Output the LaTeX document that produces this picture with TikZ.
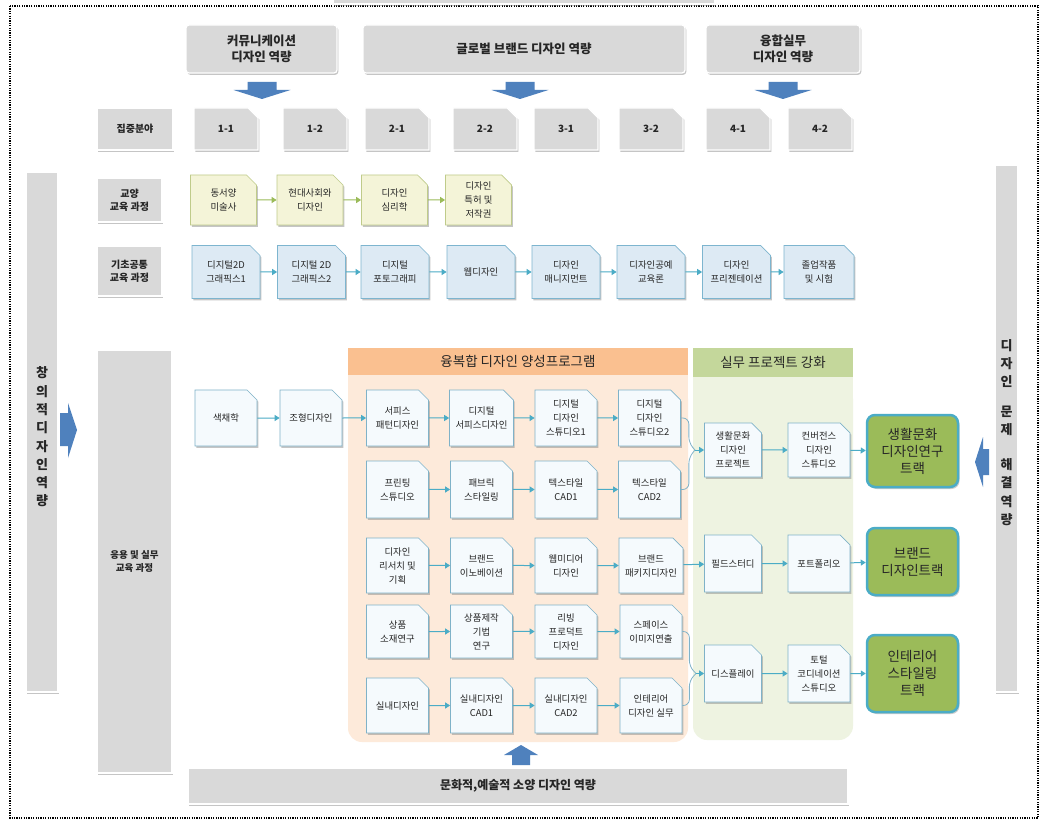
\documentclass[tikz,border=0pt]{standalone}
\usepackage{fontspec}
\setmainfont{Noto Sans CJK KR}
\usetikzlibrary{shapes.misc,shadows,arrows.meta,calc}
\definecolor{cgray}{HTML}{D9D9D9}
\definecolor{ctxt}{HTML}{262626}
\definecolor{cybg}{HTML}{F4F4D8}
\definecolor{cybd}{HTML}{BFCB8A}
\definecolor{cbbg}{HTML}{DDEAF4}
\definecolor{cbbd}{HTML}{7DB5CF}
\definecolor{cmfill}{HTML}{F5FAFD}
\definecolor{cmline}{HTML}{7FB2C8}
\definecolor{cohead}{HTML}{FAC090}
\definecolor{cobg}{HTML}{FDEADA}
\definecolor{cghead}{HTML}{C4D79B}
\definecolor{cgbg}{HTML}{EEF3E1}
\definecolor{ctrk}{HTML}{9BBB59}
\definecolor{ctrkline}{HTML}{4BACC6}
\definecolor{cblue}{HTML}{4F81BD}
\definecolor{cteal}{HTML}{4BACC6}
\definecolor{cgarr}{HTML}{9BBB59}
\tikzset{
  shd/.style={drop shadow={shadow xshift=1.3pt,shadow yshift=-1.8pt,opacity=0.45,fill=black!50}},
  graybox/.style={fill=cgray, draw=white, line width=1.3pt, shd, align=center, inner sep=1pt, text=ctxt, font=\bfseries\fontsize{10}{13}\selectfont},
  topbox/.style={graybox, rounded corners=3pt, font=\bfseries\fontsize{12.5}{16}\selectfont, minimum height=48pt},
  foldshape/.style={chamfered rectangle, chamfered rectangle corners=north east, chamfered rectangle sep=5pt},
  numbox/.style={graybox, foldshape, minimum width=64pt, minimum height=42pt},
  ybox/.style={foldshape, fill=cybg, draw=cybd, line width=0.7pt, shd, minimum width=66pt, minimum height=50pt, align=center, inner sep=1pt, text=ctxt, font=\fontsize{9.4}{14}\selectfont},
  bbox/.style={ybox, fill=cbbg, draw=cbbd, minimum width=68pt, minimum height=53pt},
  mbox/.style={ybox, fill=cmfill, draw=cmline, minimum width=62pt},
  trackbox/.style={rounded corners=8pt, fill=ctrk, draw=ctrkline, line width=2.5pt, drop shadow={shadow xshift=1.5pt,shadow yshift=-2pt,opacity=0.4,fill=black!50}, minimum width=91pt, align=center, text=ctxt, font=\fontsize{13.5}{17}\selectfont},
  yarr/.style={draw=cgarr, line width=1pt, -{Triangle[width=6pt,length=5pt]}},
  tarr/.style={draw=cteal, line width=1pt, -{Triangle[width=6pt,length=5pt]}},
  tcurve/.style={draw=cmline, line width=0.8pt, rounded corners=6pt},
  hdr/.style={inner sep=0pt, text=ctxt, font=\fontsize{13.5}{16}\selectfont},
  sidetxt/.style={align=center, inner sep=0pt, text=ctxt, font=\bfseries\fontsize{13}{18.3}\selectfont},
  blockarr/.style={fill=cblue}
}
\begin{document}
\begin{tikzpicture}[x=1pt,y=-1pt]
\fill[white] (0,0) rectangle (1045,821);
\useasboundingbox (0,0) rectangle (1045,821);
% outer dotted frame
\draw[line width=1.3pt, dash pattern=on 1.2pt off 1.2pt] (10,6) rectangle (1038,818);
% partial box at top
\path[fill=cgray, draw=white, line width=1.3pt, shd] (333,-6) rectangle (715,4);

% top competence boxes
\node[topbox, minimum width=151pt] (t1) at (261.5,49) {커뮤니케이션\\디자인 역량};
\node[topbox, minimum width=322pt] (t2) at (524,49) {글로벌 브랜드 디자인 역량};
\node[topbox, minimum width=154pt] (t3) at (783,49) {융합실무\\디자인 역량};
\foreach \cx in {262,520,783}{
  \fill[blockarr] (\cx-14.5,82) -- (\cx+14.5,82) -- (\cx+14.5,90) -- (\cx+28.5,90) -- (\cx,99) -- (\cx-28.5,90) -- (\cx-14.5,90) -- cycle;
}

% row 1
\node[graybox, minimum width=76pt, minimum height=42pt] (f0) at (135,129) {집중분야};
\node[numbox] (f11) at (226,129) {1-1};
\node[numbox] (f12) at (315,129) {1-2};
\node[numbox] (f21) at (397,129) {2-1};
\node[numbox] (f22) at (485,129) {2-2};
\node[numbox] (f31) at (566,129) {3-1};
\node[numbox] (f32) at (651,129) {3-2};
\node[numbox] (f41) at (738,129) {4-1};
\node[numbox] (f42) at (820,129) {4-2};

% side bars
\node[graybox, minimum width=32pt, minimum height=520pt] (lbar) at (42,432) {};
\node[sidetxt] (ltxt) at (42,437) {창\\의\\적\\디\\자\\인\\역\\량};
\fill[blockarr] (60,413) -- (68,413) -- (68,403) -- (77,430) -- (68,458) -- (68,446) -- (60,446) -- cycle;
\node[graybox, minimum width=23pt, minimum height=527pt] (rbar) at (1006.5,428.5) {};
\node[sidetxt] (rtxt) at (1006.5,432.5) {디\\자\\인\\[11.5pt]문\\제\\[16.5pt]해\\결\\역\\량};
\fill[blockarr] (975,462) -- (983,437) -- (983,449) -- (989,449) -- (989,475) -- (983,475) -- (983,487) -- cycle;

% row labels
\node[graybox, minimum width=65pt, minimum height=44pt] (l1) at (129.5,200) {교양\\교육 과정};
\node[graybox, minimum width=65pt, minimum height=50pt] (l2) at (129.5,271) {기초공통\\교육 과정};
\node[graybox, minimum width=75pt, minimum height=423pt, font=\bfseries\fontsize{9.5}{13}\selectfont] (l3) at (134.5,561.5) {응용 및 실무\\교육 과정};

% liberal arts row
\node[ybox] (y1) at (223.5,200) {동서양\\미술사};
\node[ybox] (y2) at (310,200) {현대사회와\\디자인};
\node[ybox] (y3) at (394.5,200) {디자인\\심리학};
\node[ybox] (y4) at (478.5,200) {디자인\\특허 및\\저작권};
\draw[yarr] (y1) -- (y2);
\draw[yarr] (y2) -- (y3);
\draw[yarr] (y3) -- (y4);

% basic common row
\node[bbox] (k1) at (226,272) {디지털2D\\그래픽스1};
\node[bbox] (k2) at (311.5,272) {디지털 2D\\그래픽스2};
\node[bbox] (k3) at (395,272) {디지털\\포토그래피};
\node[bbox] (k4) at (481,272) {웹디자인};
\node[bbox] (k5) at (566,272) {디자인\\매니지먼트};
\node[bbox] (k6) at (651,272) {디자인공예\\교육론};
\node[bbox] (k7) at (736.5,272) {디자인\\프리젠테이션};
\node[bbox, minimum width=70pt] (k8) at (819,272) {졸업작품\\및 시험};
\foreach \i/\j in {k1/k2,k2/k3,k3/k4,k4/k5,k5/k6,k6/k7,k7/k8}{\draw[tarr] (\i) -- (\j);}

% program regions
\fill[cobg] (348,375) rectangle (688,400);
\fill[cobg, rounded corners=14pt] (348,385) rectangle (688,742);
\node[hdr, fill=cohead, minimum width=340pt, minimum height=27pt] (oh) at (518,361.5) {융복합 디자인 양성프로그램};
\fill[cgbg] (693,377) rectangle (853,400);
\fill[cgbg, rounded corners=14pt] (693,385) rectangle (853,740);
\node[hdr, fill=cghead, minimum width=160pt, minimum height=29pt] (gh) at (773,362.5) {실무 프로젝트 강화};

% row A
\node[mbox, minimum height=56pt] (a1) at (226,418) {색채학};
\node[mbox, minimum height=56pt] (a2) at (311,418) {조형디자인};
\node[mbox, minimum height=56pt] (a3) at (397.5,418) {서피스\\패턴디자인};
\node[mbox, minimum height=56pt] (a4) at (481.5,418) {디지털\\서피스디자인};
\node[mbox, minimum height=56pt] (a5) at (566,418) {디지털\\디자인\\스튜디오1};
\node[mbox, minimum height=56pt] (a6) at (649.5,418) {디지털\\디자인\\스튜디오2};
\foreach \i/\j in {a1/a2,a2/a3,a3/a4,a4/a5,a5/a6}{\draw[tarr] (\i) -- (\j);}
% row B
\node[mbox, minimum height=57pt] (b1) at (397.5,489.5) {프린팅\\스튜디오};
\node[mbox, minimum height=57pt] (b2) at (481.5,489.5) {패브릭\\스타일링};
\node[mbox, minimum height=57pt] (b3) at (566,489.5) {텍스타일\\CAD1};
\node[mbox, minimum height=57pt] (b4) at (649.5,489.5) {텍스타일\\CAD2};
\foreach \i/\j in {b1/b2,b2/b3,b3/b4}{\draw[tarr] (\i) -- (\j);}
% row C
\node[mbox, minimum height=55pt] (c1) at (397.5,565.5) {디자인\\리서치 및\\기획};
\node[mbox, minimum height=55pt] (c2) at (481.5,565.5) {브랜드\\이노베이션};
\node[mbox, minimum height=55pt] (c3) at (566,565.5) {웹미디어\\디자인};
\node[mbox, minimum height=55pt] (c4) at (651,565.5) {브랜드\\패키지디자인};
\foreach \i/\j in {c1/c2,c2/c3,c3/c4}{\draw[tarr] (\i) -- (\j);}
% row D
\node[mbox, minimum height=53pt] (d1) at (397.5,631.5) {상품\\소재연구};
\node[mbox, minimum height=53pt] (d2) at (481.5,631.5) {상품제작\\기법\\연구};
\node[mbox, minimum height=53pt] (d3) at (566,631.5) {리빙\\프로덕트\\디자인};
\node[mbox, minimum height=53pt] (d4) at (651,631.5) {스페이스\\이미지연출};
\foreach \i/\j in {d1/d2,d2/d3,d3/d4}{\draw[tarr] (\i) -- (\j);}
% row E
\node[mbox, minimum height=55pt] (e1) at (397.5,705.5) {실내디자인};
\node[mbox, minimum height=55pt] (e2) at (481.5,705.5) {실내디자인\\CAD1};
\node[mbox, minimum height=55pt] (e3) at (566,705.5) {실내디자인\\CAD2};
\node[mbox, minimum height=55pt] (e4) at (651,705.5) {인테리어\\디자인 실무};
\foreach \i/\j in {e1/e2,e2/e3,e3/e4}{\draw[tarr] (\i) -- (\j);}

% practical project column
\node[mbox, minimum width=57pt, minimum height=54pt] (p1) at (733,450) {생활문화\\디자인\\프로젝트};
\node[mbox, minimum width=62pt, minimum height=54pt] (p2) at (819,450) {컨버전스\\디자인\\스튜디오};
\node[trackbox, minimum height=72pt] (tr1) at (912.5,451) {생활문화\\디자인연구\\트랙};
\node[mbox, minimum width=57pt, minimum height=57pt] (q1) at (733,563.5) {필드스터디};
\node[mbox, minimum width=62pt, minimum height=57pt] (q2) at (819,563.5) {포트폴리오};
\node[trackbox, minimum height=67pt] (tr2) at (912.5,561.5) {브랜드\\디자인트랙};
\node[mbox, minimum width=57pt, minimum height=57pt] (r1) at (733,673.5) {디스플레이};
\node[mbox, minimum width=62pt, minimum height=57pt] (r2) at (819,673.5) {토털\\코디네이션\\스튜디오};
\node[trackbox, minimum height=77pt] (tr3) at (912.5,673.5) {인테리어\\스타일링\\트랙};

% merges
\coordinate (mg1) at (695,450);
\coordinate (mg2) at (696,673.5);
\draw[tcurve] (a6.east) -- ++(8,0) -- ++(0,25) -- (mg1);
\draw[tcurve] (b4.east) -- ++(8,0) -- ++(0,-32) -- (mg1);
\draw[tarr] (mg1) -- (p1.west);
\draw[tcurve] (d4.east) -- ++(7,0) -- ++(0,35) -- (mg2);
\draw[tcurve] (e4.east) -- ++(7,0) -- ++(0,-25) -- (mg2);
\draw[tarr] (mg2) -- (r1.west);
\draw[tarr] (p1) -- (p2);
\draw[tarr] (p2) -- (tr1);
\draw[tarr] (c4) -- (q1);
\draw[tarr] (q1) -- (q2);
\draw[tarr] (q2) -- (tr2);
\draw[tarr] (r1) -- (r2);
\draw[tarr] (r2) -- (tr3);

% bottom
\fill[blockarr] (521,745) -- (538,755) -- (530,755) -- (530,765) -- (512,765) -- (512,755) -- (504,755) -- cycle;
\node[graybox, minimum width=660pt, minimum height=36pt, font=\bfseries\fontsize{12}{15}\selectfont] (bot) at (518,786) {문화적,예술적 소양 디자인 역량};
\end{tikzpicture}
\end{document}
